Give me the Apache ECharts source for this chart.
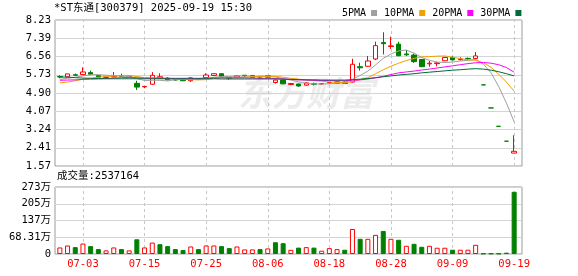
<!DOCTYPE html>
<html><head><meta charset="utf-8">
<script src="https://cdn.jsdelivr.net/npm/echarts@6/dist/echarts.min.js"></script>
<style>html,body{margin:0;padding:0;background:#fff}#c{width:578px;height:276px}</style>
</head><body><div id="c"></div>
<script>
const dates = ['06-30','07-01','07-02','07-03','07-04','07-07','07-08','07-09','07-10','07-11','07-14','07-15','07-16','07-17','07-18','07-21','07-22','07-23','07-24','07-25','07-28','07-29','07-30','07-31','08-01','08-04','08-05','08-06','08-07','08-08','08-11','08-12','08-13','08-14','08-15','08-18','08-19','08-20','08-21','08-22','08-25','08-26','08-27','08-28','08-29','09-01','09-02','09-03','09-04','09-05','09-08','09-09','09-10','09-11','09-12','09-15','09-16','09-17','09-18','09-19'];
const open  = [5.65,5.64,5.73,5.74,5.83,5.69,5.61,5.63,5.68,5.64,5.34,5.18,5.30,5.58,5.58,5.52,5.53,5.46,5.56,5.60,5.70,5.78,5.60,5.62,5.71,5.61,5.66,5.62,5.38,5.49,5.29,5.31,5.26,5.32,5.31,5.36,5.34,5.33,5.40,6.10,6.12,6.45,7.20,7.02,7.13,6.68,6.63,6.43,6.23,6.24,6.37,6.52,6.42,6.48,6.47,5.27,4.22,3.38,2.70,2.16];
const close = [5.63,5.77,5.71,5.86,5.75,5.62,5.63,5.66,5.66,5.66,5.17,5.20,5.71,5.64,5.50,5.49,5.46,5.59,5.53,5.72,5.78,5.64,5.57,5.68,5.69,5.70,5.63,5.69,5.49,5.32,5.33,5.22,5.36,5.30,5.33,5.38,5.41,5.40,6.21,6.05,6.36,7.06,7.15,7.05,6.60,6.64,6.33,6.10,6.26,6.27,6.52,6.41,6.45,6.46,6.59,5.27,4.22,3.38,2.70,2.24];
const low   = [5.57,5.62,5.68,5.73,5.72,5.60,5.60,5.62,5.64,5.62,5.04,5.12,5.28,5.54,5.48,5.47,5.44,5.41,5.50,5.58,5.68,5.62,5.50,5.60,5.62,5.59,5.57,5.60,5.33,5.30,5.26,5.18,5.24,5.24,5.29,5.34,5.32,5.32,5.38,5.92,6.10,6.40,6.66,6.91,6.58,6.59,6.27,6.08,6.10,6.12,6.35,6.38,6.38,6.40,6.45,5.27,4.22,3.38,2.70,2.16];
const high  = [5.71,5.78,5.79,6.07,5.92,5.70,5.65,5.86,5.78,5.68,5.46,5.22,5.85,5.80,5.62,5.55,5.54,5.63,5.58,5.80,5.81,5.80,5.64,5.72,5.72,5.71,5.67,5.71,5.52,5.50,5.35,5.32,5.38,5.37,5.35,5.40,5.43,5.42,6.46,6.28,6.59,7.24,7.67,7.47,7.24,6.86,6.70,6.45,6.36,6.33,6.55,6.58,6.53,6.52,6.77,5.27,4.22,3.38,2.70,2.97];
// volume in 万 shares
const volume = [26.7,34.7,28,42.7,32,20,14.7,26.7,20,14.7,60,26.7,46.7,40,32,20,16,30.7,20,34.7,34.7,32,24,30.7,18.7,18.7,20,22.7,48,44,17,26,28,26,13.4,24,20,17.4,102,62,62,78,94,62,58,33.5,41.5,29.5,33.5,25.5,25.5,17.4,17.4,17.4,37.5,2,2,2,5.4,253.7164];
// 1 = red (up vs previous close), 0 = green
const volumeUp = [1,1,0,1,0,0,1,1,0,1,0,1,1,0,0,0,0,1,0,1,1,0,0,1,1,1,0,1,0,0,1,0,1,0,1,1,1,0,1,0,1,1,0,1,0,1,0,0,1,1,1,0,1,1,1,0,0,0,0,0];
const ma5  = [5.52,5.57,5.62,5.68,5.73,5.74,5.71,5.70,5.67,5.65,5.56,5.47,5.48,5.48,5.45,5.51,5.55,5.54,5.51,5.56,5.62,5.65,5.65,5.68,5.67,5.66,5.65,5.67,5.63,5.56,5.49,5.41,5.34,5.31,5.31,5.32,5.35,5.36,5.53,5.70,5.90,6.18,6.48,6.68,6.82,6.86,6.72,6.52,6.39,6.31,6.29,6.31,6.36,6.39,6.42,6.22,5.82,5.19,4.44,3.58];
const ma10 = [5.36,5.40,5.46,5.53,5.57,5.62,5.65,5.67,5.69,5.70,5.65,5.60,5.59,5.57,5.55,5.53,5.52,5.51,5.50,5.51,5.56,5.60,5.59,5.60,5.62,5.64,5.65,5.66,5.66,5.62,5.57,5.53,5.50,5.47,5.44,5.41,5.38,5.36,5.43,5.51,5.60,5.78,5.96,6.12,6.26,6.38,6.48,6.55,6.56,6.58,6.59,6.53,6.47,6.41,6.40,6.28,6.07,5.76,5.40,4.98];
const ma20 = [5.48,5.49,5.50,5.52,5.53,5.54,5.56,5.58,5.60,5.61,5.60,5.58,5.58,5.58,5.57,5.57,5.57,5.57,5.57,5.58,5.59,5.59,5.59,5.59,5.59,5.58,5.57,5.57,5.56,5.54,5.52,5.50,5.49,5.48,5.47,5.47,5.46,5.46,5.48,5.50,5.54,5.59,5.66,5.74,5.82,5.86,5.90,5.95,5.99,6.04,6.09,6.14,6.19,6.24,6.28,6.29,6.26,6.19,6.06,5.85];
const ma30 = [5.63,5.62,5.60,5.58,5.57,5.56,5.55,5.55,5.55,5.55,5.55,5.55,5.55,5.55,5.55,5.55,5.55,5.55,5.55,5.55,5.55,5.54,5.54,5.54,5.54,5.54,5.54,5.54,5.54,5.53,5.52,5.51,5.50,5.50,5.49,5.49,5.49,5.49,5.51,5.53,5.56,5.60,5.64,5.68,5.72,5.75,5.78,5.82,5.85,5.88,5.91,5.94,5.96,5.99,6.01,5.99,5.94,5.87,5.78,5.68];
const priceTicks = ['1.57','2.41','3.24','4.07','4.90','5.73','6.56','7.39','8.23'];
const volumeTicks = ['0','68.31万','137万','205万','273万'];
const dateLabelIdx = [3,11,19,27,35,43,51,59];
const titleText = '*ST东通[300379] 2025-09-19 15:30';
const volumeText = '成交量:2537164';
const maNames = ['5PMA','10PMA','20PMA','30PMA'];

const FONT = '"DejaVu Sans Mono","Noto Sans CJK SC",monospace';
const FS = 10.5;
const RED = '#ff0000', GREEN = '#008000';
const maColors = ['#a0a0a0','#f2a000','#ff00ff','#006a3a'];
const maData = [ma5, ma10, ma20, ma30];

const chart = echarts.init(document.getElementById('c'), null, {renderer:'canvas'});
const vlines = {
  symbol:'none', silent:true, label:{show:false}, z:1,
  lineStyle:{type:[3,3], color:'#c8c8c8', width:1},
  data: dateLabelIdx.map(i => ({xAxis: dates[i]}))
};
const option = {
  animation:false,
  backgroundColor:'#fff',
  legend:{
    data: maNames, left:337, top:3, align:'right', icon:'rect',
    itemWidth:6, itemHeight:6, itemGap:7, selectedMode:false,
    textStyle:{fontFamily:FONT, fontSize:10, color:'#000', padding:[0,0,0,0]}
  },
  graphic:[
    {type:'text', left:54, top:3, style:{text:titleText, font:FS+'px '+FONT, fill:'#000'}},
    {type:'text', left:57, top:171, style:{text:volumeText, font:FS+'px '+FONT, fill:'#000'}},
    {type:'text', left:238, top:76, z:-1, style:{text:'东方财富', font:'bold italic 34px "Noto Sans CJK SC"', fill:'#ececec'}}
  ],
  grid:[
    {left:55, top:20, width:467, height:146, show:true, borderColor:'#9a9a9a', borderWidth:1},
    {left:56, top:20, width:462, height:146},
    {left:55, top:187, width:467, height:67, show:true, borderColor:'#9a9a9a', borderWidth:1},
    {left:56, top:187, width:462, height:67}
  ],
  xAxis:[
    {gridIndex:0, type:'value', min:0, max:1, show:false},
    {gridIndex:1, type:'category', data:dates, boundaryGap:true, show:false},
    {gridIndex:2, type:'value', min:0, max:1, show:false},
    {gridIndex:3, type:'category', data:dates, boundaryGap:true,
      axisLine:{show:false}, axisTick:{show:false}, splitLine:{show:false},
      axisLabel:{color:RED, fontFamily:FONT, fontSize:FS, margin:5,
        interval:(i)=>dateLabelIdx.indexOf(i)>=0}}
  ],
  yAxis:[
    {gridIndex:0, type:'value', min:0, max:8, interval:1,
      axisLine:{show:false}, axisTick:{show:false},
      splitLine:{lineStyle:{color:'#d4d4d4', width:1}},
      axisLabel:{formatter:(v)=>priceTicks[Math.round(v)], color:'#000', fontFamily:FONT, fontSize:FS, margin:4}},
    {gridIndex:1, type:'value', min:1.57, max:8.23, show:false},
    {gridIndex:2, type:'value', min:0, max:4, interval:1,
      axisLine:{show:false}, axisTick:{show:false},
      splitLine:{lineStyle:{color:'#d4d4d4', width:1}},
      axisLabel:{formatter:(v)=>volumeTicks[Math.round(v)], color:'#000', fontFamily:FONT, fontSize:FS, margin:4}},
    {gridIndex:3, type:'value', min:0, max:273.24, show:false}
  ],
  series:[
    {type:'candlestick', xAxisIndex:1, yAxisIndex:1, barWidth:5, silent:true, z:2,
      data: dates.map((d,i)=>[open[i], close[i], low[i], high[i]]),
      itemStyle:{color:'#ffffff', color0:GREEN, borderColor:RED, borderColor0:GREEN, borderColorDoji:GREEN, borderWidth:1},
      markLine: vlines},
    ...maNames.map((n,k)=>({
      name:n, type:'line', xAxisIndex:1, yAxisIndex:1, data:maData[k],
      showSymbol:false, symbol:'none', silent:true, z:3,
      lineStyle:{width:1, color:maColors[k]}, itemStyle:{color:maColors[k]}
    })),
    {type:'bar', xAxisIndex:3, yAxisIndex:3, barWidth:5, silent:true, z:2,
      data: volume.map((v,i)=>({value:v, itemStyle: volumeUp[i]
        ? {color:'#ffffff', borderColor:RED, borderWidth:1}
        : {color:GREEN, borderColor:GREEN, borderWidth:1}})),
      markLine: vlines}
  ]
};
chart.setOption(option);
</script></body></html>
